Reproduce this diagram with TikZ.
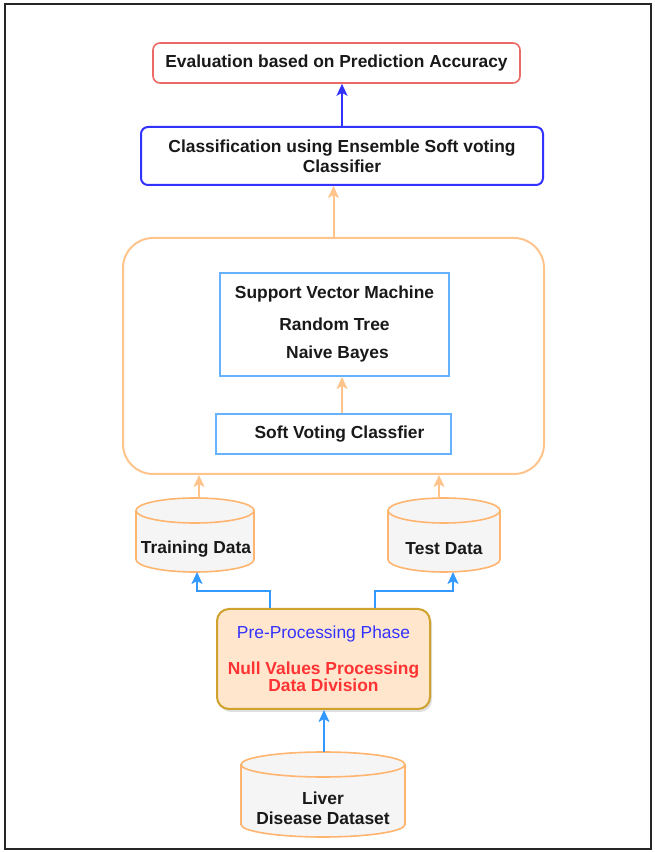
\documentclass[tikz,border=0pt]{standalone}
\usepackage{fontspec}
\setmainfont{Liberation Sans}
\usetikzlibrary{arrows.meta,calc,shadows}
\definecolor{evred}{HTML}{EA6B66}
\definecolor{clblue}{HTML}{3333FF}
\definecolor{orng}{HTML}{FFC48C}
\definecolor{cylor}{HTML}{FFB570}
\definecolor{ltblue}{HTML}{66B2FF}
\definecolor{conblue}{HTML}{3399FF}
\definecolor{peach}{HTML}{FFE6CC}
\definecolor{gold}{HTML}{CFA22E}
\definecolor{txtred}{HTML}{FF3333}
\definecolor{cylfill}{HTML}{F5F5F5}
\newcommand\drawcyl[1]{%
  \draw[cylline] let \p1=(#1.north west), \p2=(#1.south east), \n1={(\x2-\x1)/2} in
    (\x1,\y1-12.5pt) -- (\x1,\y2+12.5pt)
    arc[start angle=180,end angle=360,x radius=\n1,y radius=12.5pt]
    -- (\x2,\y1-12.5pt)
    arc[start angle=0,end angle=180,x radius=\n1,y radius=12.5pt] -- cycle
    (\x1,\y1-12.5pt) arc[start angle=180,end angle=360,x radius=\n1,y radius=12.5pt];
}
\begin{document}
\begin{tikzpicture}[x=1pt,y=1pt,
  txt/.style={font=\fontsize{17.4}{20}\selectfont\bfseries, align=center, text=black!90},
  evbox/.style={txt, draw=evred, line width=1.6pt, rounded corners=7pt, fill=white},
  clbox/.style={txt, draw=clblue, line width=2pt, rounded corners=7pt, fill=white},
  contbox/.style={draw=orng, line width=2pt, rounded corners=30pt},
  lbbox/.style={txt, draw=ltblue, line width=2pt, fill=white},
  prebox/.style={align=center, draw=gold, line width=2pt, rounded corners=12pt, fill=peach,
     drop shadow={opacity=0.25, shadow xshift=2pt, shadow yshift=-3pt}},
  cylnode/.style={draw=none, inner sep=0pt, outer sep=0pt},
  cylline/.style={draw=cylor, line width=1.6pt, fill=cylfill},
  cyltext/.style={txt},
  tip/.style={-{Stealth[length=12pt,width=11pt,inset=3pt]}},
  blarrow/.style={draw=clblue, line width=2pt, tip},
  orarrow/.style={draw=orng, line width=2pt, tip},
  cbarrow/.style={draw=conblue, line width=2pt, tip},
]
\useasboundingbox (0,0) rectangle (655,852);
\draw[line width=2.8pt, black!85] (5,3) rectangle (651,848);

% boxes
\node[evbox, minimum width=367pt, minimum height=40pt] (eval) at (336.5,789)
  {Evaluation based on Prediction Accuracy};
\node[clbox, minimum width=402pt, minimum height=58pt] (class) at (342,696)
  {Classification using Ensemble Soft voting\\Classifier};
\node[contbox, minimum width=421pt, minimum height=236pt] (cont) at (333.5,496) {};
\node[lbbox, minimum width=229pt, minimum height=103pt] (svm) at (334.5,527.5)
  {Support Vector Machine\\[12pt]Random Tree\\[8pt]\hspace*{6pt}Naive Bayes};
\node[lbbox, minimum width=235pt, minimum height=40pt] (soft) at (333.5,418)
  {\hspace*{12pt}Soft Voting Classfier};
\node[prebox, minimum width=213pt, minimum height=100pt] (pre) at (323.5,193)
  {\fontsize{17.4}{18}\selectfont\color{clblue}Pre-Processing Phase\\[19pt]
   \fontsize{17.4}{18}\selectfont\bfseries\color{txtred}Null Values Processing\\
   \fontsize{17.4}{18}\selectfont\bfseries\color{txtred}Data Division};

% cylinders
\node[cylnode, minimum width=118pt, minimum height=74pt] (train) at (195,317) {};
\node[cylnode, minimum width=112pt, minimum height=74pt] (test) at (444,317) {};
\node[cylnode, minimum width=164pt, minimum height=85pt] (liver) at (323,57.5) {};
\drawcyl{train}
\drawcyl{test}
\drawcyl{liver}
\node[cyltext] (trainlbl) at (196,303) {Training Data};
\node[cyltext] (testlbl) at (444,303) {Test Data};
\node[cyltext] (liverlbl) at (323,44) {Liver\\Disease Dataset};

% connectors
\draw[blarrow] (class.north) -- (class.north |- eval.south);
\draw[orarrow] (cont.north) -- (cont.north |- class.south);
\draw[orarrow] ([xshift=8.5pt]soft.north) -- ([xshift=8.5pt]soft.north |- svm.south);
\draw[orarrow] ([xshift=4pt]train.north) -- ([xshift=4pt]train.north |- cont.south);
\draw[orarrow] ([xshift=-5pt]test.north) -- ([xshift=-5pt]test.north |- cont.south);
\draw[cbarrow] ([xshift=-53.5pt]pre.north) -- ++(0,17) -| ([xshift=2pt]train.south);
\draw[cbarrow] ([xshift=51.5pt]pre.north) -- ++(0,17) -| ([xshift=9pt]test.south);
\draw[cbarrow] ([xshift=1pt]liver.north) -- ([xshift=1pt]liver.north |- pre.south);
\end{tikzpicture}
\end{document}
